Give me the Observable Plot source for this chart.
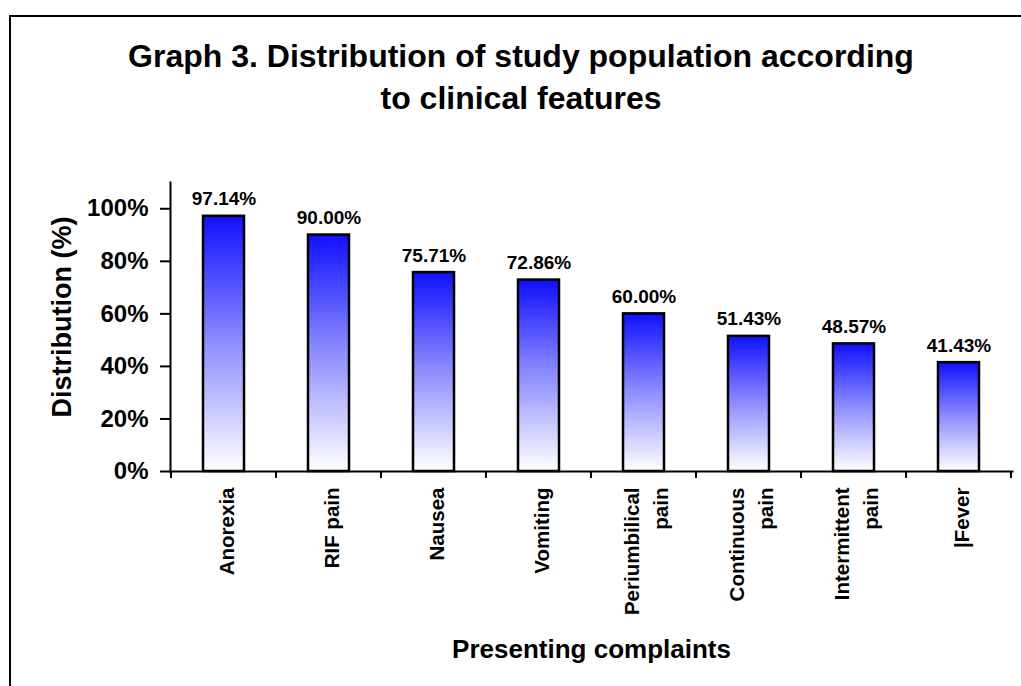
<!DOCTYPE html>
<html>
<head>
<meta charset="utf-8">
<script src="https://cdn.jsdelivr.net/npm/d3@7"></script>
<script src="https://cdn.jsdelivr.net/npm/@observablehq/plot@0.6"></script>
<style>
  html, body { margin: 0; padding: 0; background: #fff; }
  #wrap { position: relative; width: 1021px; height: 686px; overflow: hidden; font-family: "Liberation Sans", Arial, sans-serif; }
  #frame { position: absolute; left: 9px; top: 15px; width: 1100px; height: 800px; border-left: 2px solid #000; border-top: 2px solid #000; }
  #title { position: absolute; left: 0; top: 35px; width: 1042px; text-align: center; font-weight: bold; font-size: 32px; line-height: 42px; color: #000; }
  #chart { position: absolute; left: 0; top: 0; }
</style>
</head>
<body>
<div id="wrap">
  <div id="frame"></div>
  <div id="chart"></div>
  <div id="title">Graph 3. Distribution of study population according<br>to clinical features</div>
</div>
<script>
const categories = ["Anorexia", "RIF pain", "Nausea", "Vomiting", "Periumbilical\npain", "Continuous\npain", "Intermittent\npain", "|Fever"];
const values = [97.14, 90.00, 75.71, 72.86, 60.00, 51.43, 48.57, 41.43];
const yTicks = [0, 20, 40, 60, 80, 100];
const yTitle = "Distribution (%)";
const xTitle = "Presenting complaints";

const data = categories.map((c, i) => ({cat: c, value: values[i]}));

const NS = "http://www.w3.org/2000/svg";
function gradientDefs() {
  const defs = document.createElementNS(NS, "defs");
  const lg = document.createElementNS(NS, "linearGradient");
  lg.setAttribute("id", "barGrad");
  lg.setAttribute("x1", "0"); lg.setAttribute("y1", "0");
  lg.setAttribute("x2", "0"); lg.setAttribute("y2", "1");
  [["0", "#1010ff"], ["0.5", "#8e8eff"], ["1", "#ffffff"]].forEach(([o, c]) => {
    const s = document.createElementNS(NS, "stop");
    s.setAttribute("offset", o);
    s.setAttribute("stop-color", c);
    lg.appendChild(s);
  });
  defs.appendChild(lg);
  return defs;
}

function categoryBoundaryTicks(index, scales, values, dimensions) {
  const g = document.createElementNS(NS, "g");
  const x = scales.x;
  const step = x.step(), bw = x.bandwidth();
  const y0 = dimensions.height - dimensions.marginBottom;
  const pos = categories.map(c => x(c) + bw / 2 - step / 2);
  pos.push(x(categories[categories.length - 1]) + bw / 2 + step / 2);
  for (const px of pos) {
    const l = document.createElementNS(NS, "line");
    l.setAttribute("x1", px); l.setAttribute("x2", px);
    l.setAttribute("y1", y0); l.setAttribute("y2", y0 + 7);
    l.setAttribute("stroke", "#000");
    l.setAttribute("stroke-width", "2");
    g.appendChild(l);
  }
  return g;
}

const chart = Plot.plot({
  width: 1021,
  height: 686,
  marginLeft: 170,
  marginRight: 9,
  marginTop: 182,
  marginBottom: 215,
  style: {fontFamily: "'Liberation Sans', Arial, sans-serif", fontWeight: "bold", color: "#000", background: "transparent"},
  x: {domain: categories, paddingInner: 0.61, paddingOuter: 0.305, axis: null},
  y: {domain: [0, 110], label: null},
  marks: [
    gradientDefs,
    Plot.barY(data, {x: "cat", y: "value", fill: "url(#barGrad)", stroke: "#000", strokeWidth: 2.5}),
    Plot.frame({anchor: "left", stroke: "#000", strokeWidth: 2}),
    Plot.frame({anchor: "bottom", stroke: "#000", strokeWidth: 2}),
    Plot.axisY({ticks: yTicks, tickFormat: d => d + "%", tickSize: 10, tickPadding: 12, strokeWidth: 2, fontSize: 24, fontWeight: "bold", label: null}),
    categoryBoundaryTicks,
    Plot.text(data, {x: "cat", y: "value", text: d => d.value.toFixed(2) + "%", dy: -17, fontSize: 19, fontWeight: "bold"}),
    Plot.text(categories, {x: d => d, text: d => d, frameAnchor: "bottom", dy: 16, rotate: -90, textAnchor: "end", lineAnchor: "middle", fontSize: 20.5, fontWeight: "bold", lineHeight: 1.45}),
    Plot.text([yTitle], {text: d => d, frameAnchor: "left", dx: -108, dy: -10, rotate: -90, textAnchor: "middle", lineAnchor: "middle", fontSize: 27, fontWeight: "bold"}),
    Plot.text([xTitle], {text: d => d, frameAnchor: "bottom", dy: 178, textAnchor: "middle", lineAnchor: "middle", fontSize: 26, fontWeight: "bold"})
  ]
});
document.getElementById("chart").appendChild(chart);
</script>
</body>
</html>
